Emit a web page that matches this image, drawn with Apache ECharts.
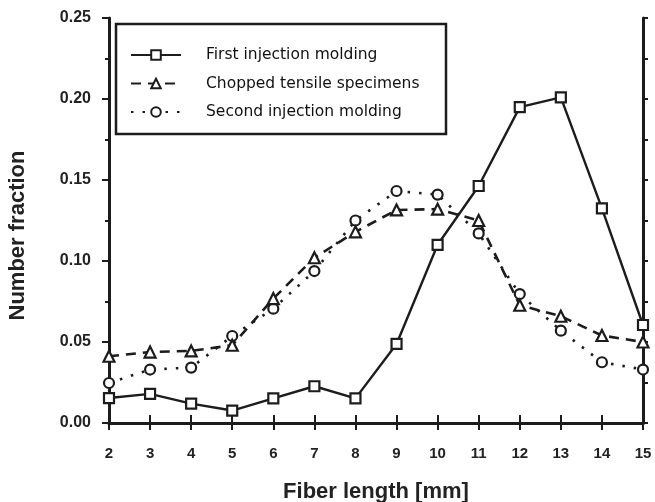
<!DOCTYPE html>
<html>
<head>
<meta charset="utf-8">
<script src="https://cdn.jsdelivr.net/npm/echarts@6/dist/echarts.min.js"></script>
<style>
  html, body {margin: 0; padding: 0; background: #fff;}
  #chart {width: 655px; height: 502px;}
</style>
</head>
<body>
<div id="chart"></div>
<script>
// fiber length classes (mm)
var lengths = [2, 3, 4, 5, 6, 7, 8, 9, 10, 11, 12, 13, 14, 15];
var firstInjection = [0.0154, 0.018, 0.012, 0.0077, 0.0152, 0.0227, 0.0152, 0.0488, 0.110, 0.1463, 0.195, 0.201, 0.1325, 0.0605];
var choppedSpecimens = [0.0412, 0.0438, 0.0445, 0.048, 0.0768, 0.102, 0.118, 0.1315, 0.132, 0.125, 0.0727, 0.0659, 0.054, 0.050];
var secondInjection = [0.0247, 0.033, 0.0342, 0.0537, 0.0706, 0.0938, 0.125, 0.1432, 0.141, 0.117, 0.0796, 0.057, 0.0375, 0.033];
var seriesNames = ['First injection molding', 'Chopped tensile specimens', 'Second injection molding'];

var ink = '#1c1c1c';

function pairs(vals) {
  return lengths.map(function (x, i) { return [x, vals[i]]; });
}

var chart = echarts.init(document.getElementById('chart'));
var option = {
  animation: false,
  grid: {left: 109, right: 12, top: 18, bottom: 79, outerBoundsMode: 'none'},
  legend: {
    orient: 'vertical',
    left: 125,
    top: 42,
    itemWidth: 50,
    itemHeight: 12,
    itemGap: 12.5,
    textStyle: {fontFamily: 'DejaVu Sans', fontSize: 15.5, color: '#111', padding: [0, 0, 0, 20]},
    data: seriesNames
  },
  graphic: [{
    type: 'rect',
    shape: {x: 116, y: 24, width: 330, height: 110},
    style: {fill: 'none', stroke: ink, lineWidth: 2.5}
  }],
  xAxis: [
    {
      type: 'value', min: 2, max: 15, interval: 1, position: 'bottom',
      axisLine: {lineStyle: {color: ink, width: 3}},
      axisTick: {length: 7, lineStyle: {color: ink, width: 2}},
      axisLabel: {color: '#222', fontSize: 15, fontWeight: 'bold', fontFamily: 'Liberation Sans', margin: 23},
      splitLine: {show: false},
      name: 'Fiber length [mm]',
      nameLocation: 'middle',
      nameGap: 58,
      nameTextStyle: {color: '#222', fontSize: 22, fontWeight: 'bold', fontFamily: 'Liberation Sans'}
    },
    {
      type: 'value', min: 2, max: 15, interval: 1, position: 'top',
      axisLine: {lineStyle: {color: ink, width: 3}},
      axisTick: {length: 8, lineStyle: {color: ink, width: 2}},
      axisLabel: {show: false},
      splitLine: {show: false}
    }
  ],
  yAxis: [
    {
      type: 'value', min: 0, max: 0.25, interval: 0.05, position: 'left',
      axisLine: {lineStyle: {color: ink, width: 3}},
      axisTick: {length: 7, lineStyle: {color: ink, width: 2}},
      minorTick: {show: true, splitNumber: 2, length: 4, lineStyle: {color: ink, width: 2}},
      axisLabel: {
        color: '#222', fontSize: 16, fontWeight: 'bold', fontFamily: 'Liberation Sans', margin: 18,
        formatter: function (v) { return v.toFixed(2); }
      },
      splitLine: {show: false},
      name: 'Number fraction',
      nameLocation: 'middle',
      nameGap: 80,
      nameTextStyle: {color: '#222', fontSize: 22, fontWeight: 'bold', fontFamily: 'Liberation Sans', padding: [0, 30, 0, 0]}
    },
    {
      type: 'value', min: 0, max: 0.25, interval: 0.025, position: 'right',
      axisLine: {lineStyle: {color: ink, width: 3}},
      axisTick: {length: 5, lineStyle: {color: ink, width: 2}},
      axisLabel: {show: false},
      splitLine: {show: false}
    }
  ],
  series: [
    {
      name: seriesNames[0],
      type: 'line',
      data: pairs(firstInjection),
      symbol: 'rect',
      symbolSize: 10,
      itemStyle: {color: '#fff', borderColor: ink, borderWidth: 2.2},
      lineStyle: {color: ink, width: 2.4, type: 'solid'},
      z: 4
    },
    {
      name: seriesNames[1],
      type: 'line',
      data: pairs(choppedSpecimens),
      symbol: 'triangle',
      symbolSize: 11,
      itemStyle: {color: '#fff', borderColor: ink, borderWidth: 2.2},
      lineStyle: {color: ink, width: 2.6, type: [10, 7]},
      z: 3
    },
    {
      name: seriesNames[2],
      type: 'line',
      data: pairs(secondInjection),
      symbol: 'circle',
      symbolSize: 10,
      itemStyle: {color: '#fff', borderColor: ink, borderWidth: 2.2},
      lineStyle: {color: ink, width: 2.6, type: [2.5, 9]},
      z: 2
    }
  ]
};
chart.setOption(option);
</script>
</body>
</html>
